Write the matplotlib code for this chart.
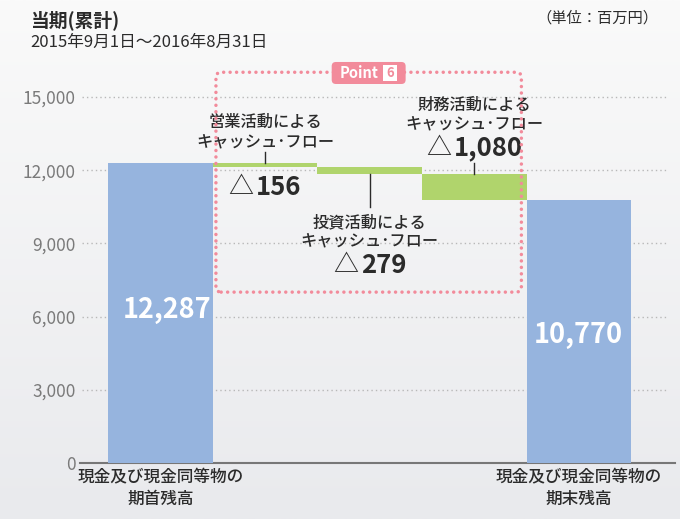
import numpy as np
import matplotlib.pyplot as plt
from matplotlib.patches import FancyBboxPatch
from matplotlib.offsetbox import TextArea, HPacker, AnnotationBbox

plt.rcParams['font.family'] = ['Noto Sans CJK JP', 'DejaVu Sans']

# data (百万円)
start_label = '現金及び現金同等物の\n期首残高'
end_label = '現金及び現金同等物の\n期末残高'
start_value = 12287
end_value = 10770
flow_labels = ['営業活動による\nキャッシュ･フロー',
               '投資活動による\nキャッシュ･フロー',
               '財務活動による\nキャッシュ･フロー']
flow_values = [-156, -279, -1080]
flow_texts = ['156', '279', '1,080']
yticks = [0, 3000, 6000, 9000, 12000, 15000]

blue = '#96b4de'
green = '#b0d46c'
pink = '#f28b9b'
dark = '#2b2b2b'

fig = plt.figure(figsize=(6.8, 5.19), dpi=100)

# gradient background
bg = fig.add_axes([0, 0, 1, 1], zorder=-10)
grad = np.linspace(0, 1, 256).reshape(-1, 1)
bg.imshow(grad, aspect='auto', cmap=plt.matplotlib.colors.LinearSegmentedColormap.from_list(
    'g', ['#fafafa', '#e9eaed']), extent=[0, 1, 0, 1], origin='upper')
bg.axis('off')

ax = fig.add_axes([80/680, 56/519, 595/680, 410/519])
ax.set_facecolor('none')

# waterfall
levels = start_value + np.concatenate([[0], np.cumsum(flow_values)])
ax.bar(0, start_value, width=1.0, color=blue, zorder=3)
for i, v in enumerate(flow_values):
    ax.bar(i + 1, -v, bottom=levels[i + 1], width=1.0, color=green, zorder=3)
ax.bar(4, end_value, width=1.0, color=blue, zorder=3)

ax.set_xlim(-0.77, 4.92)
ax.set_ylim(0, 16800)

# dotted grid
for t in yticks[1:]:
    ax.plot([-0.75, 4.85], [t, t], ls=(0, (1, 2.2)), color='#b8b8b8', lw=1, zorder=1)

ax.set_yticks(yticks)
ax.set_yticklabels([f'{t:,}' for t in yticks], fontsize=12.5, color='#7a7a7a')
ax.tick_params(axis='y', length=0, pad=3)
ax.set_xticks([])
for s in ['top', 'right', 'left']:
    ax.spines[s].set_visible(False)
ax.spines['bottom'].set_color('#777777')
ax.spines['bottom'].set_linewidth(1.5)

# values inside end bars
ax.text(0.06, 6265, f'{start_value:,}', ha='center', va='center', color='white',
        fontsize=19.5, fontweight='bold', zorder=5)
ax.text(4, 5242, f'{end_value:,}', ha='center', va='center', color='white',
        fontsize=19.5, fontweight='bold', zorder=5)

# x labels
ax.text(0, -1044, start_label, ha='center', va='center', fontsize=12, color=dark,
        fontweight='medium', linespacing=1.25, clip_on=False)
ax.text(4, -1044, end_label, ha='center', va='center', fontsize=12, color=dark,
        fontweight='medium', linespacing=1.25, clip_on=False)

# flow labels + connectors
label_y = [13540, 9450, 14250]
num_y = [11302, 8108, 12899]
line_ends = [(levels[0], 12737), (levels[2], 10480), (levels[2], 12300)]
for i in range(3):
    x = i + 1
    ax.text(x, label_y[i], flow_labels[i], ha='center', va='center', fontsize=11.7,
            color=dark, fontweight='medium', linespacing=1.22, zorder=6)
    ax.plot([x, x], line_ends[i], color=dark, lw=1, zorder=4)
    tri = TextArea('△', textprops=dict(fontsize=18, color=dark))
    num = TextArea(flow_texts[i], textprops=dict(fontsize=18.5, fontweight='bold', color=dark))
    pack = HPacker(children=[tri, num], align='center', pad=0, sep=2)
    ab = AnnotationBbox(pack, (x, num_y[i]), frameon=False, box_alignment=(0.5, 0.5),
                        zorder=6)
    ax.add_artist(ab)

# Point box
mut = (16800 / 410) / (5.69 / 595)
box = FancyBboxPatch((0.53, 7002), 3.451 - 0.53, 16011 - 7002,
                     boxstyle='round,pad=0,rounding_size=0.05', mutation_aspect=mut,
                     fill=False, edgecolor=pink, lw=2.5, ls=(0, (0.01, 1.85)),
                     capstyle='round', zorder=7, clip_on=False)
ax.add_patch(box)
tag = FancyBboxPatch((1.637, 15530), 2.344 - 1.637, 16432 - 15530,
                     boxstyle='round,pad=0,rounding_size=0.04', mutation_aspect=mut,
                     fc=pink, ec='none', zorder=8, clip_on=False)
ax.add_patch(tag)
ax.text(1.895, 15981, 'Point', ha='center', va='center', fontsize=10.5,
        fontweight='bold', color='white', zorder=9)
sq = FancyBboxPatch((2.13, 15653), 0.134, 16309 - 15653, boxstyle='square,pad=0',
                    fc='white', ec='none', zorder=9, clip_on=False)
ax.add_patch(sq)
ax.text(2.197, 15981, '6', ha='center', va='center', fontsize=9.5, fontweight='bold',
        color=pink, zorder=10)

# titles
fig.text(30/680, 1 - 20/519, '当期(累計)', ha='left', va='center', fontsize=13.5,
         fontweight='bold', color=dark)
fig.text(30/680, 1 - 42/519, '2015年9月1日～2016年8月31日', ha='left', va='center',
         fontsize=12, color=dark)
fig.text(658/680, 1 - 18/519, '（単位：百万円）', ha='right', va='center',
         fontsize=11, color=dark)

fig.savefig('out.png', dpi=100)
